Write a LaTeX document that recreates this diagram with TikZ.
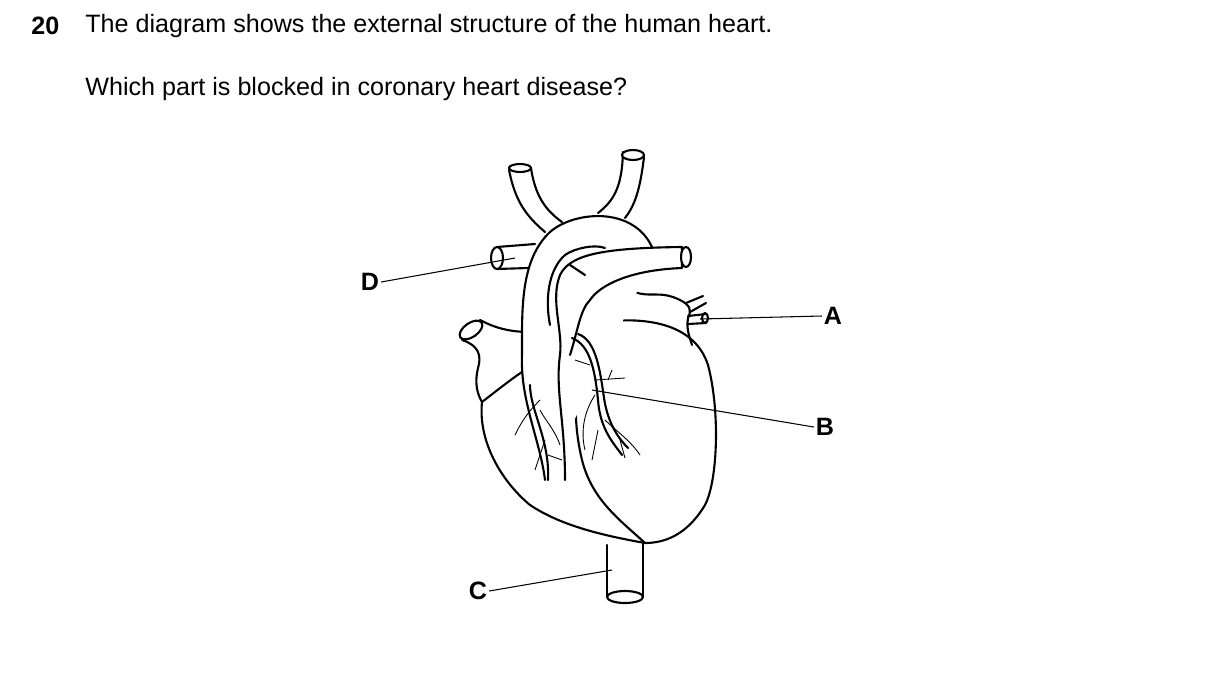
\documentclass[tikz,border=0pt]{standalone}
\usepackage{fontspec}
\setmainfont{Liberation Sans}
\newlength{\du}
\setlength{\du}{0.02cm}
\tikzset{
  outline/.style={line width=1.2pt, line join=round, line cap=round},
  vein/.style={line width=0.5pt},
  pointer/.style={line width=0.6pt},
  letter/.style={font=\bfseries\fontsize{14.3}{17}\selectfont, inner sep=1pt},
  qtext/.style={font=\fontsize{14.3}{17}\selectfont, anchor=west, inner sep=0pt}
}
\begin{document}
\begin{tikzpicture}[x=\du,y=-\du]
\useasboundingbox (0,0) rectangle (1209,690);
% question
\node[qtext,font=\bfseries\fontsize{14.3}{17}\selectfont] (num) at (31,26) {20};
\node[qtext] (line1) at (85,26) {The diagram shows the external structure of the human heart.};
\node[qtext] (line2) at (85,89) {Which part is blocked in coronary heart disease?};
% top vessels
\draw[outline,fill=white] (509,170) .. controls (515,200) and (525,215) .. (545,232);
\draw[outline] (531,168) .. controls (535,195) and (545,210) .. (562,222);
\draw[outline,fill=white] (520,168) ellipse (11 and 4);
\draw[outline] (623,152) .. controls (622,185) and (615,200) .. (598,213);
\draw[outline] (644,157) .. controls (640,190) and (635,205) .. (625,218);
\draw[outline,fill=white] (633,155) ellipse (11 and 5);
% vessel D
\draw[outline] (497,247) -- (535,244);
\draw[outline] (497,269) -- (528,268);
\draw[outline,fill=white] (497,258) ellipse (6 and 11);
% right atrium
\draw[outline] (480,320) .. controls (495,328) and (510,332) .. (530,332);
\draw[outline] (462,340) .. controls (478,345) and (482,355) .. (478,368) .. controls (474,385) and (478,395) .. (482,402);
\draw[outline,fill=white,rotate around={35:(471,330)}] (471,330) ellipse (13 and 7);
% left atrium and vessel A
\draw[outline] (597,297) .. controls (610,290) and (620,300) .. (635,292) .. controls (650,298) and (660,290) .. (680,300);
\draw[outline] (680,300) .. controls (690,305) and (692,310) .. (688,318) .. controls (686,330) and (690,338) .. (692,345);
\draw[outline] (686,303) -- (703,296);
\draw[outline] (690,312) -- (706,303);
\draw[outline] (688,316) -- (706,314);
\draw[outline] (688,324) -- (706,323);
\draw[outline] (705,318) ellipse (3 and 5);
\draw[outline] (625,280) -- (625,293);
\draw[outline] (600,283) -- (600,298);
% heart body
\draw[outline] (482,402) .. controls (478,440) and (500,480) .. (530,505) .. controls (560,525) and (600,535) .. (645,543);
\draw[outline] (482,402) .. controls (495,392) and (510,380) .. (522,372);
\draw[outline] (600,322) .. controls (650,316) and (695,325) .. (708,365) .. controls (720,410) and (718,480) .. (705,505) .. controls (690,530) and (670,543) .. (645,543);
\draw[outline] (645,543) .. controls (620,520) and (592,500) .. (582,460) .. controls (570,410) and (575,360) .. (600,322);
% inferior vena cava C
\draw[outline] (607,545) -- (607,597);
\draw[outline] (643,542) -- (643,597);
\draw[outline] (625,597) ellipse (18 and 6);
% aortic arch
\draw[outline,fill=white] (545,480) .. controls (540,440) and (520,400) .. (522,355) .. controls (522,310) and (520,260) .. (550,232) .. controls (575,210) and (640,205) .. (655,255);
\draw[outline] (550,325) .. controls (545,300) and (548,270) .. (565,255) .. controls (575,248) and (595,244) .. (605,248);
% pulmonary trunk
\draw[outline,fill=white] (565,480) .. controls (565,420) and (555,390) .. (560,355) .. controls (563,330) and (550,300) .. (560,275) .. controls (570,255) and (600,248) .. (682,247) -- (682,268) .. controls (630,270) and (600,285) .. (590,300) .. controls (580,310) and (578,330) .. (570,355);
\draw[outline] (570,265) -- (585,275);
\draw[outline,fill=white] (686,257) ellipse (5 and 10);
% coronary artery on left ventricle
\draw[outline] (572,338) .. controls (590,345) and (595,370) .. (598,400) .. controls (600,430) and (615,445) .. (622,455);
\draw[outline] (578,334) .. controls (596,340) and (600,370) .. (604,398) .. controls (608,425) and (620,440) .. (628,448);
% coronary artery on right ventricle
\draw[outline] (548,480) .. controls (550,440) and (530,410) .. (530,385);
\draw[vein] (595,380) -- (625,378);
\draw[vein] (608,380) -- (612,370);
\draw[vein] (590,365) -- (575,360);
\draw[vein] (595,395) .. controls (585,410) and (580,430) .. (585,450);
\draw[vein] (605,420) .. controls (615,430) and (630,440) .. (640,455);
\draw[vein] (620,440) -- (625,458);
\draw[vein] (598,430) -- (592,460);
\draw[vein] (540,400) .. controls (525,415) and (520,425) .. (515,435);
\draw[vein] (540,410) .. controls (545,420) and (555,430) .. (560,445);
\draw[vein] (545,440) -- (535,470);
\draw[vein] (548,455) -- (562,460);
% labels
\node[letter] (D) at (370,282) {D};
\node[letter] (A) at (833,316) {A};
\node[letter] (B) at (825,427) {B};
\node[letter] (C) at (478,591) {C};
\coordinate (Dend) at (515,258);
\coordinate (Aend) at (700,319);
\coordinate (Bend) at (592,390);
\coordinate (Cend) at (612,570);
\draw[pointer] (D.east) -- (Dend);
\draw[pointer] (A.west) -- (Aend);
\draw[pointer] (B.west) -- (Bend);
\draw[pointer] (C.east) -- (Cend);
\end{tikzpicture}
\end{document}
